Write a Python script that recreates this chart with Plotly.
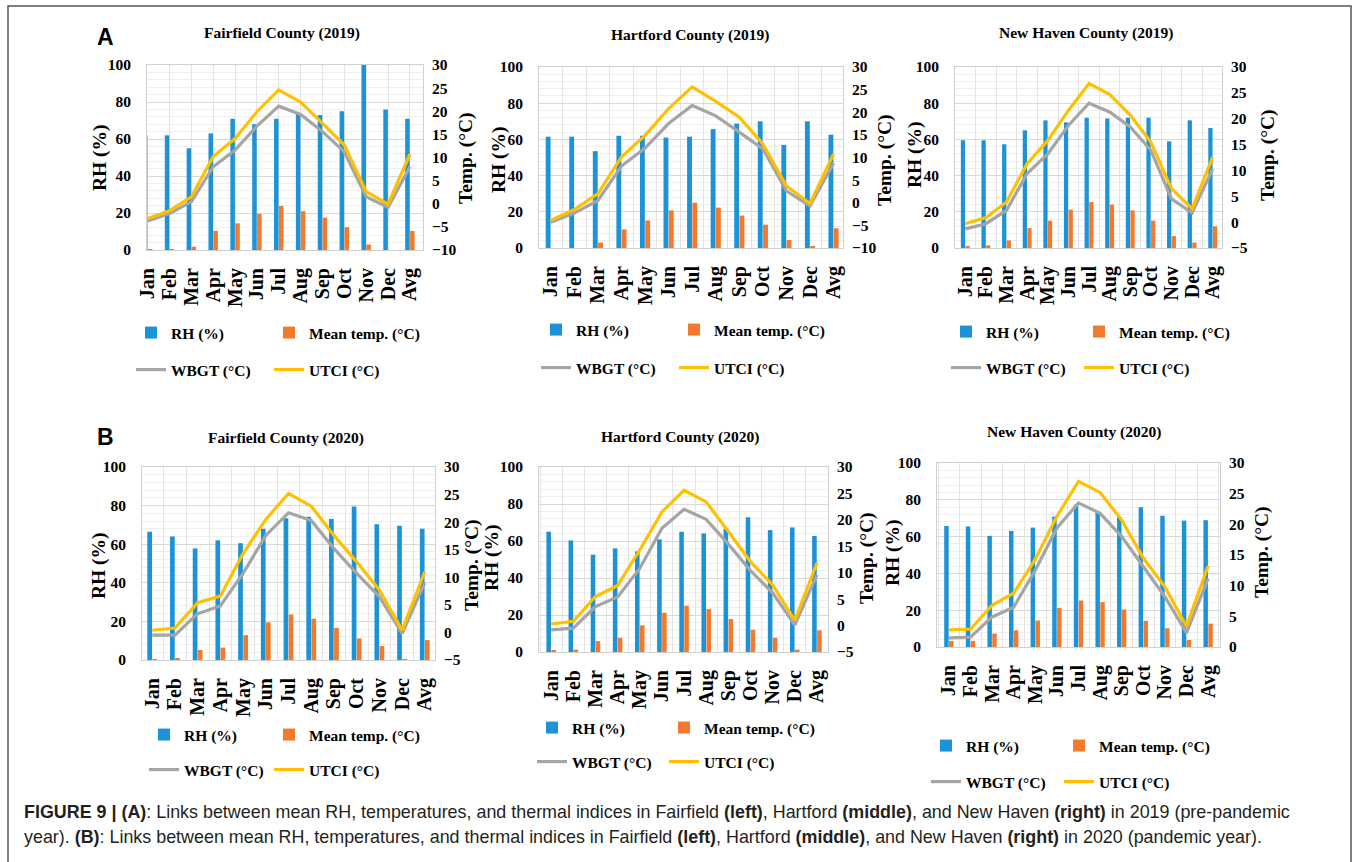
import plotly.graph_objects as go

W, H = 1354, 862

months = ["Jan", "Feb", "Mar", "Apr", "May", "Jun", "Jul", "Aug", "Sep", "Oct", "Nov", "Dec", "Avg"]

# ---------------- data ----------------
fairfield_2019_rh = [62, 62, 55, 63, 71, 68, 71, 74, 73, 75, 100, 76, 71]
fairfield_2019_temp = [0.4, 0.4, 1.8, 10.3, 14.4, 19.6, 23.8, 21.0, 17.5, 12.3, 3.0, 0.0, 10.3]
fairfield_2019_wbgt = [-3.7, -2.1, 0.4, 8.0, 11.6, 16.8, 21.1, 19.3, 15.6, 11.2, 1.5, -0.8, 8.0]
fairfield_2019_utci = [-3.2, -1.5, 1.5, 10.2, 14.1, 19.9, 24.6, 22.0, 17.4, 12.7, 2.6, -0.1, 10.7]

hartford_2019_rh = [61.5, 61.5, 53.5, 62, 62, 61, 61.5, 65.7, 68.7, 70, 57, 70, 62.6]
hartford_2019_temp = [0.0, 0.0, 3.0, 10.3, 15.2, 20.8, 25.0, 22.3, 17.9, 12.9, 4.4, 0.9, 10.9]
hartford_2019_wbgt = [-4.3, -2.3, 0.5, 8.1, 12.1, 17.5, 21.5, 19.2, 15.6, 11.9, 2.6, -0.7, 8.8]
hartford_2019_utci = [-3.9, -1.5, 2.0, 10.1, 14.9, 20.8, 25.6, 22.4, 18.9, 13.0, 3.7, -0.2, 10.8]

newhaven_2019_rh = [59.5, 59.5, 57.3, 65, 70.5, 69.4, 72, 71.6, 72, 72, 58.9, 70.5, 66.3]
newhaven_2019_temp = [0.9, 1.5, 4.2, 11.0, 15.1, 21.2, 25.4, 24.0, 20.8, 15.1, 6.6, 3.0, 12.0]
newhaven_2019_wbgt = [-1.3, -0.3, 2.3, 9.4, 13.2, 18.7, 23.0, 21.3, 18.4, 13.9, 4.5, 1.8, 10.3]
newhaven_2019_utci = [-0.3, 0.9, 3.9, 11.3, 15.8, 21.6, 26.8, 24.7, 20.7, 15.5, 6.5, 2.6, 12.6]

fairfield_2020_rh = [66.5, 64, 57.8, 62, 60.5, 68, 73.5, 74.2, 73, 79.5, 70.3, 69.5, 68]
fairfield_2020_temp = [0.5, 0.7, 5.2, 6.4, 12.9, 19.5, 23.6, 21.4, 16.6, 11.2, 7.2, 0.5, 10.3]
fairfield_2020_wbgt = [-0.5, -0.5, 3.4, 4.8, 10.7, 17.6, 21.7, 20.3, 15.2, 10.7, 6.5, -0.2, 9.0]
fairfield_2020_utci = [0.4, 0.8, 5.4, 6.6, 14.3, 20.5, 25.2, 22.9, 17.6, 12.8, 7.7, 0.4, 11.0]

hartford_2020_rh = [65, 60.3, 52.6, 56, 54.4, 60.9, 65, 64.1, 66.8, 72.9, 65.9, 67.3, 62.7]
hartford_2020_temp = [0.9, 1.3, 5.9, 7.7, 14.4, 21.2, 25.0, 23.2, 17.8, 12.0, 7.7, 1.3, 11.7]
hartford_2020_wbgt = [-0.8, -0.5, 3.6, 5.4, 10.8, 18.4, 22.0, 20.1, 15.4, 10.4, 6.2, 0.1, 9.6]
hartford_2020_utci = [0.3, 0.8, 5.5, 7.6, 14.3, 21.5, 25.6, 23.4, 17.8, 12.1, 7.7, 1.0, 11.8]

newhaven_2020_rh = [65.8, 65.5, 60.4, 63.1, 64.9, 70.9, 77.3, 73.6, 70.5, 76, 71.3, 68.7, 68.9]
newhaven_2020_temp = [3.3, 3.3, 7.3, 9.1, 14.4, 21.3, 25.3, 24.4, 20.4, 14.2, 10.2, 3.8, 12.7]
newhaven_2020_wbgt = [1.5, 1.6, 4.9, 6.5, 12.5, 19.4, 23.5, 21.8, 18.0, 13.1, 8.2, 2.3, 11.2]
newhaven_2020_utci = [2.8, 2.9, 6.8, 8.8, 14.3, 21.3, 27.0, 25.2, 20.7, 14.5, 9.8, 3.4, 13.2]

titles = ["Fairfield County (2019)", "Hartford County (2019)", "New Haven County (2019)",
          "Fairfield County (2020)", "Hartford County (2020)", "New Haven County (2020)"]
rh_series = [fairfield_2019_rh, hartford_2019_rh, newhaven_2019_rh,
             fairfield_2020_rh, hartford_2020_rh, newhaven_2020_rh]
temp_series = [fairfield_2019_temp, hartford_2019_temp, newhaven_2019_temp,
               fairfield_2020_temp, hartford_2020_temp, newhaven_2020_temp]
wbgt_series = [fairfield_2019_wbgt, hartford_2019_wbgt, newhaven_2019_wbgt,
               fairfield_2020_wbgt, hartford_2020_wbgt, newhaven_2020_wbgt]
utci_series = [fairfield_2019_utci, hartford_2019_utci, newhaven_2019_utci,
               fairfield_2020_utci, hartford_2020_utci, newhaven_2020_utci]
temp_ranges = [[-10, 30], [-10, 30], [-5, 30], [-5, 30], [-5, 30], [0, 30]]

series_names = ["RH (%)", "Mean temp. (°C)", "WBGT (°C)", "UTCI (°C)"]
rh_axis_title = "RH (%)"
temp_axis_title = "Temp. (°C)"

# ---------------- layout geometry (pixels) ----------------
plot_px = [(147, 423), (539, 843), (955, 1222), (142, 435), (539, 828), (937, 1220)]
plot_py = [(65, 250), (67, 248), (67, 248), (467, 660), (467, 652), (463, 647)]
x_ranges = [[-0.03, 12.6], [-0.5, 12.4], [-0.5, 12.45], [-0.45, 12.45], [-0.55, 12.5], [-0.55, 12.55]]
grid_on = ["labels", "boundaries", "boundaries", "boundaries", "boundaries", "boundaries"]
title_pos = [(282, 33), (690, 35), (1086, 33), (286, 438), (680, 437), (1074, 432)]
# axis title centres: (left x, right x, y)
axis_title_pos = [(100, 466, 158), (499, 885, 160), (915, 1268, 155),
                  (99, 472, 565), (492, 867, 558), (893, 1262, 552)]
# legend: (left of col1, left of col2, y row1, y row2)
legend_pos = [(131, 269, 333, 370), (536, 674, 330, 368), (946, 1079, 332, 368),
              (144, 269, 735, 770), (532, 664, 728, 762), (926, 1059, 746, 782)]

BLUE = "#1B93D6"
ORANGE = "#F37A2C"
GRAY = "#A5A5A5"
YELLOW = "#FFC000"
SERIF = "Liberation Serif"


def fx(p):
    return p / W


def fy(p):
    return 1 - p / H


fig = go.Figure()
layout = {}
legend_idx = 0

for i in range(6):
    n = i + 1
    xname = "x" if n == 1 else f"x{n}"
    yl = 2 * i + 1
    yr = 2 * i + 2
    ylname = "y" if yl == 1 else f"y{yl}"
    yrname = f"y{yr}"

    values = [rh_series[i], temp_series[i], wbgt_series[i], utci_series[i]]
    colors = [BLUE, ORANGE, GRAY, YELLOW]
    lg = legend_pos[i]
    slots = [(lg[0], lg[2]), (lg[1], lg[2]), (lg[0], lg[3]), (lg[1], lg[3])]

    for k in range(4):
        legend_idx += 1
        lname = "legend" if legend_idx == 1 else f"legend{legend_idx}"
        if k < 2:
            tr = go.Bar(x=months, y=values[k], name=series_names[k], marker_color=colors[k],
                        marker_line_width=0, xaxis=xname, yaxis=ylname, legend=lname,
                        showlegend=True)
        else:
            tr = go.Scatter(x=months, y=values[k], name=series_names[k], mode="lines",
                            line=dict(color=colors[k], width=3.2), xaxis=xname, yaxis=yrname,
                            legend=lname, showlegend=True)
        fig.add_trace(tr)
        layout[lname] = dict(x=fx(slots[k][0]), y=fy(slots[k][1]), xanchor="left", yanchor="middle",
                             orientation="h", bgcolor="rgba(0,0,0,0)", borderwidth=0, itemwidth=30,
                             font=dict(family=SERIF, size=15.5, color="black", weight="bold"))

    x0, x1 = plot_px[i]
    y0, y1 = plot_py[i]
    xkey = "xaxis" if n == 1 else f"xaxis{n}"
    ylkey = "yaxis" if yl == 1 else f"yaxis{yl}"
    yrkey = f"yaxis{yr}"
    layout[xkey] = dict(domain=[fx(x0), fx(x1)], anchor=ylname, type="category",
                        categoryorder="array", categoryarray=months, range=x_ranges[i],
                        tickmode="array", tickvals=months, ticktext=months,
                        tickson=grid_on[i], tickangle=-90, showgrid=True, gridcolor="#E3E3E3",
                        showline=True, linecolor="#D0D0D0", mirror=True, ticks="",
                        ticklabelstandoff=9,
                        tickfont=dict(family=SERIF, size=20, color="black", weight="bold"))
    layout[ylkey] = dict(domain=[fy(y1), fy(y0)], anchor=xname, range=[0, 100], dtick=20,
                         showgrid=True, gridcolor="#D9D9D9", zeroline=False,
                         minor=dict(dtick=4, showgrid=True, gridcolor="#EFEFEF"),
                         showline=True, linecolor="#D0D0D0", mirror=True, ticks="",
                         ticklabelstandoff=12,
                         tickfont=dict(family=SERIF, size=15.5, color="black", weight="bold"))
    layout[yrkey] = dict(overlaying=ylname, side="right", anchor=xname, range=temp_ranges[i], dtick=5,
                         showgrid=False, zeroline=False, showline=False, ticks="",
                         ticklabelstandoff=8,
                         tickfont=dict(family=SERIF, size=15.5, color="black", weight="bold"))

annotations = []
for i in range(6):
    cx, cy = title_pos[i]
    annotations.append(dict(text=titles[i], x=fx(cx), y=fy(cy), xref="paper", yref="paper",
                            xanchor="center", yanchor="middle", showarrow=False,
                            font=dict(family=SERIF, size=15.5, color="black", weight="bold")))
    lx, rx, ty = axis_title_pos[i]
    for txt, ax in [(rh_axis_title, lx), (temp_axis_title, rx)]:
        annotations.append(dict(text=txt, x=fx(ax), y=fy(ty), xref="paper", yref="paper",
                                xanchor="center", yanchor="middle", showarrow=False, textangle=-90,
                                font=dict(family=SERIF, size=19.5, color="black", weight="bold")))

for lab, (lx, ly) in [("A", (105, 37)), ("B", (105, 437))]:
    annotations.append(dict(text=lab, x=fx(lx), y=fy(ly), xref="paper", yref="paper",
                            xanchor="center", yanchor="middle", showarrow=False,
                            font=dict(family="Liberation Sans", size=23, color="black", weight="bold")))

caption_1 = ("<b>FIGURE 9 | (A)</b>: Links between mean RH, temperatures, and thermal indices in Fairfield "
             "<b>(left)</b>, Hartford <b>(middle)</b>, and New Haven <b>(right)</b> in 2019 (pre-pandemic")
caption_2 = ("year). <b>(B)</b>: Links between mean RH, temperatures, and thermal indices in Fairfield "
             "<b>(left)</b>, Hartford <b>(middle)</b>, and New Haven <b>(right)</b> in 2020 (pandemic year).")
for txt, cy in [(caption_1, 812), (caption_2, 837)]:
    annotations.append(dict(text=txt, x=fx(22), y=fy(cy), xref="paper", yref="paper",
                            xanchor="left", yanchor="middle", showarrow=False,
                            font=dict(family="Liberation Sans", size=17.9, color="#231F20")))

shapes = [dict(type="rect", xref="paper", yref="paper", x0=fx(8), x1=fx(1351), y0=-0.05, y1=fy(6),
               line=dict(color="#555555", width=1.5), fillcolor="rgba(0,0,0,0)", layer="below")]

fig.update_layout(**layout)
fig.update_layout(width=W, height=H, margin=dict(l=0, r=0, t=0, b=0, autoexpand=False),
                  paper_bgcolor="white", plot_bgcolor="white",
                  barmode="group", bargap=0.55, bargroupgap=0.08,
                  annotations=annotations, shapes=shapes, hovermode=False)

fig.write_html("out.html", config={"displayModeBar": False},
               post_script="document.body.style.margin='0';")
